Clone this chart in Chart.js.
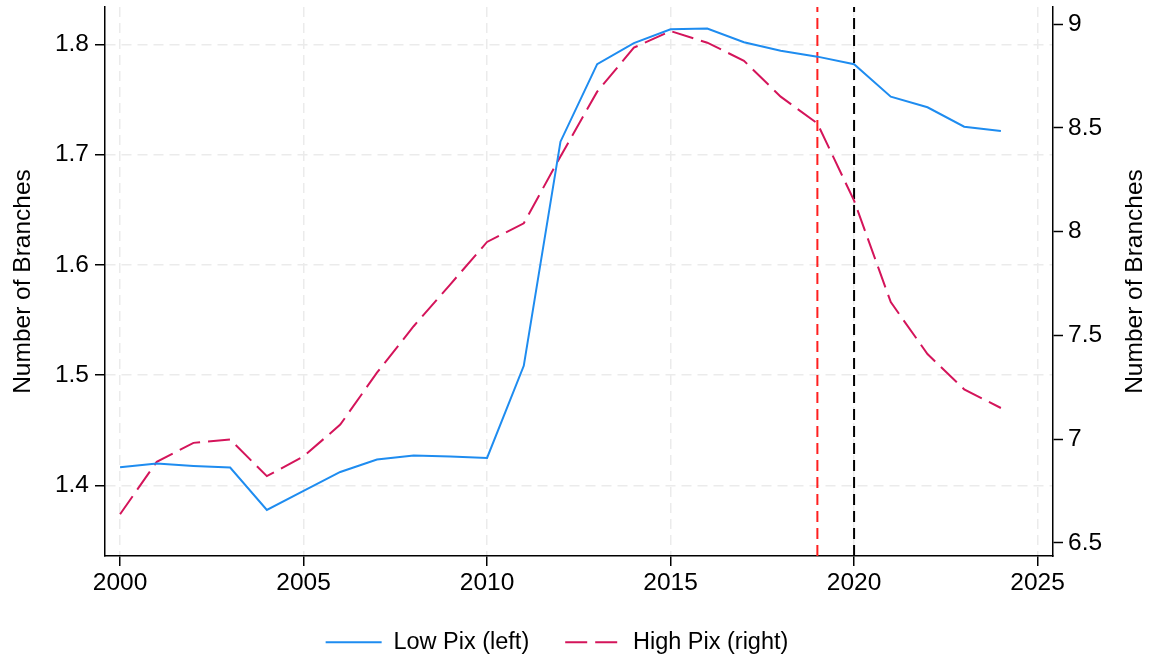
<!DOCTYPE html>
<html>
<head>
<meta charset="utf-8">
<script src="https://cdn.jsdelivr.net/npm/chart.js@4"></script>
<style>
  html, body { margin: 0; padding: 0; background: #fff; }
  #myChart { display: block; }
</style>
</head>
<body>
<canvas id="myChart" width="1150" height="661"></canvas>
<script>
const years = [2000, 2001, 2002, 2003, 2004, 2005, 2006, 2007, 2008, 2009, 2010, 2011, 2012,
    2013, 2014, 2015, 2016, 2017, 2018, 2019, 2020, 2021, 2022, 2023, 2024];

const lowPix = [1.4166, 1.4200, 1.4178, 1.4163, 1.3779, 1.3951, 1.4123, 1.4236, 1.4272, 1.4262,
    1.4250, 1.5085, 1.7117, 1.7820, 1.8010, 1.8136, 1.8142, 1.8018, 1.7942, 1.7888,
    1.7819, 1.7525, 1.7429, 1.7253, 1.7214];

const highPix = [6.638, 6.891, 6.982, 6.998, 6.822, 6.917, 7.070, 7.320, 7.544, 7.746,
    7.950, 8.040, 8.362, 8.674, 8.886, 8.966, 8.910, 8.823, 8.650, 8.521,
    8.149, 7.660, 7.410, 7.240, 7.150];

const xTicks = [2000, 2005, 2010, 2015, 2020, 2025];
const leftTicks = [1.4, 1.5, 1.6, 1.7, 1.8];
const rightTicks = [6.5, 7, 7.5, 8, 8.5, 9];

const xRange = [1999.59, 2025.42];
const leftRange = [1.3361, 1.8338];
const rightRange = [6.437, 9.082];

// dashed reference years
const markerYears = [2019, 2020];
const markerColors = ['#ff1f1f', '#000000'];

const FONT = "'Liberation Sans', Arial, Helvetica, sans-serif";
const AXIS_FONT = 24.5;
Chart.defaults.font.family = FONT;
Chart.defaults.font.size = AXIS_FONT;
Chart.defaults.color = '#000';

function toPoints(values) {
    return years.map((yr, i) => ({ x: yr, y: values[i] }));
}

const markerSets = markerYears.map((yr, i) => ({
    label: 'marker ' + yr,
    data: [{ x: yr, y: leftRange[0] }, { x: yr, y: leftRange[1] }],
    yAxisID: 'yL',
    borderColor: markerColors[i],
    borderWidth: 2,
    borderDash: [11, 6],
    pointRadius: 0,
}));

const gridColor = '#ebebeb';

// y axes: no extra room for half labels, so the plot box sits where it should
function noPad(s) {
    s.paddingTop = 0;
    s.paddingBottom = 0;
}

// right title reads bottom-to-top like the left one
const rightTitle = {
    id: 'rightTitle',
    afterDraw(chart) {
        const ctx = chart.ctx;
        const area = chart.chartArea;
        ctx.save();
        ctx.translate(chart.width - 15, (area.top + area.bottom) / 2);
        ctx.rotate(-Math.PI / 2);
        ctx.font = AXIS_FONT + 'px ' + FONT;
        ctx.fillStyle = '#000';
        ctx.textAlign = 'center';
        ctx.textBaseline = 'middle';
        ctx.fillText('Number of Branches', 0, 0);
        ctx.restore();
    }
};

const config = {
    type: 'line',
    data: {
        datasets: [{
            label: 'Low Pix (left)',
            data: toPoints(lowPix),
            yAxisID: 'yL',
            borderColor: '#1e8cf0',
            borderWidth: 2,
            pointRadius: 0,
            tension: 0,
        },
        {
            label: 'High Pix (right)',
            data: toPoints(highPix),
            yAxisID: 'yR',
            borderColor: '#d4145a',
            borderWidth: 2,
            borderDash: [22, 8],
            pointRadius: 0,
            tension: 0,
        }].concat(markerSets)
    },
    options: {
        responsive: false,
        animation: false,
        layout: { padding: { top: 7, left: 0, right: 36, bottom: -3 } },
        plugins: {
            tooltip: { enabled: false },
            legend: {
                position: 'bottom',
                labels: {
                    usePointStyle: true,
                    pointStyle: 'line',
                    pointStyleWidth: 56,
                    padding: 36,
                    color: '#000',
                    font: { size: 23.5 },
                    filter: item => item.datasetIndex < 2,
                    generateLabels: function(chart) {
                        // keep the line's own width and dash in the legend sample
                        const items = Chart.defaults.plugins.legend.labels.generateLabels(chart);
                        return items.map(function(item) {
                            const ds = chart.data.datasets[item.datasetIndex];
                            item.strokeStyle = ds.borderColor;
                            item.lineWidth = ds.borderWidth;
                            item.lineDash = ds.borderDash || [];
                            return item;
                        });
                    }
                }
            }
        },
        scales: {
            x: {
                type: 'linear',
                min: xRange[0],
                max: xRange[1],
                afterBuildTicks: s => { s.ticks = xTicks.map(v => ({ value: v })); },
                afterFit: s => { s.height = 38.5; },
                ticks: { padding: 3, maxRotation: 0, callback: v => String(v) },
                grid: { color: gridColor, lineWidth: 1.5, tickLength: 10, tickColor: '#000', tickWidth: 1.5 },
                border: { color: '#000', width: 1.5, dash: [10, 6] }
            },
            yL: {
                position: 'left',
                min: leftRange[0],
                max: leftRange[1],
                afterBuildTicks: s => { s.ticks = leftTicks.map(v => ({ value: v })); },
                afterFit: s => { s.width = 105; noPad(s); },
                ticks: { padding: 6, callback: v => String(v) },
                title: { display: true, text: 'Number of Branches', padding: { top: 9, bottom: 0 } },
                grid: { color: gridColor, lineWidth: 1.5, tickLength: 10, tickColor: '#000', tickWidth: 1.5 },
                border: { color: '#000', width: 1.5, dash: [10, 6] }
            },
            yR: {
                position: 'right',
                min: rightRange[0],
                max: rightRange[1],
                afterBuildTicks: s => { s.ticks = rightTicks.map(v => ({ value: v })); },
                afterFit: s => { s.width = 61; noPad(s); },
                ticks: { padding: 5, callback: v => String(v) },
                grid: { drawOnChartArea: false, tickLength: 10, tickColor: '#000', tickWidth: 1.5 },
                border: { color: '#000', width: 1.5 }
            }
        }
    },
    plugins: [rightTitle]
};

const myChart = new Chart(document.getElementById('myChart'), config);
</script>
</body>
</html>
